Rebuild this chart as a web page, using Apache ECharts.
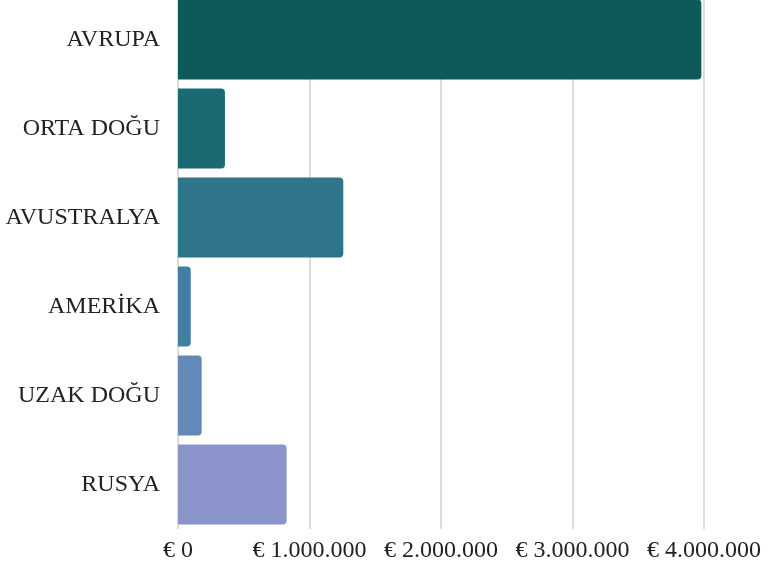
<!DOCTYPE html>
<html><head><meta charset="utf-8">
<script src="https://cdn.jsdelivr.net/npm/echarts@6/dist/echarts.min.js"></script>
<style>html,body{margin:0;padding:0;background:#fff;overflow:hidden}#c{width:768px;height:568px;position:relative;top:-5px}</style>
</head><body><div id="c"></div>
<script>
const categories = ['AVRUPA','ORTA DOĞU','AVUSTRALYA','AMERİKA','UZAK DOĞU','RUSYA'];
const values = [3980000, 357000, 1257000, 97000, 180000, 826000];
const colors = ['#0e5a5b','#1b6a73','#2e758c','#427ea4','#6489b9','#8a94cb'];
const tickLabels = ['€ 0','€ 1.000.000','€ 2.000.000','€ 3.000.000','€ 4.000.000'];
const font = '"Liberation Serif", "DejaVu Serif", serif';
const chart = echarts.init(document.getElementById('c'));
chart.setOption({
  animation:false,
  grid:{left:178,right:64,top:0,bottom:34,containLabel:false},
  xAxis:{type:'value',min:0,max:4000000,interval:1000000,
    axisLine:{show:false},axisTick:{show:false},
    splitLine:{lineStyle:{color:'#d0d0d0',width:1.5}},
    axisLabel:{margin:10,color:'#222',fontFamily:font,fontSize:24,
      formatter:(v)=>tickLabels[Math.round(v/1000000)]}},
  yAxis:{type:'category',data:categories,inverse:true,
    axisLine:{show:false},axisTick:{show:false},
    axisLabel:{margin:18,color:'#222',fontFamily:font,fontSize:24}},
  series:[{type:'bar',barCategoryGap:'10%',
    data:values.map((v,i)=>({value:v,itemStyle:{color:colors[i],borderRadius:[0,4,4,0]}}))}]
});
</script></body></html>
